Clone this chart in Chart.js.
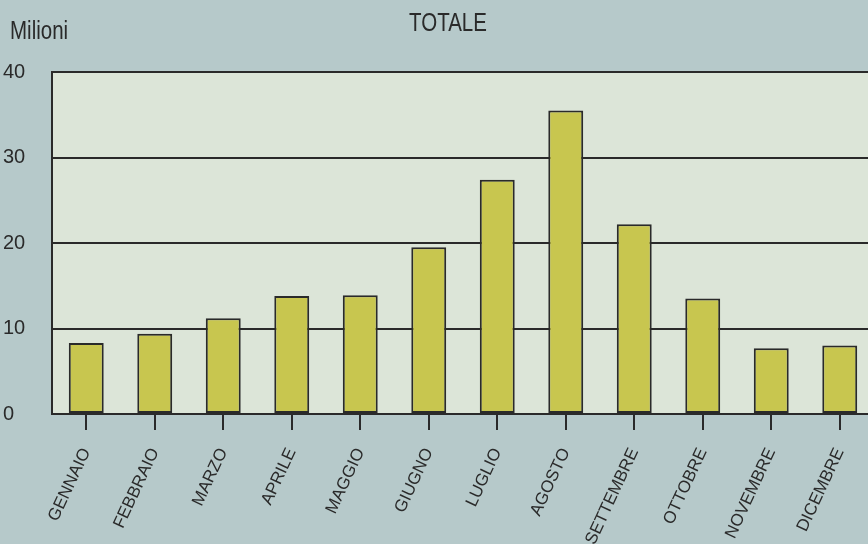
<!DOCTYPE html>
<html><head><meta charset="utf-8">
<script src="https://cdn.jsdelivr.net/npm/chart.js@4/dist/chart.umd.min.js"></script>
<style>
html,body{margin:0;padding:0;background:#b6c9ca;overflow:hidden;width:868px;height:544px;}
#wrap{position:absolute;left:0;top:0;width:890px;height:544px;}
</style></head><body>
<div id="wrap"><canvas id="c" width="890" height="544"></canvas></div>
<script>
const months = ['GENNAIO','FEBBRAIO','MARZO','APRILE','MAGGIO','GIUGNO','LUGLIO','AGOSTO','SETTEMBRE','OTTOBRE','NOVEMBRE','DICEMBRE'];
const values = [8.3, 9.4, 11.2, 13.8, 13.9, 19.5, 27.4, 35.5, 22.2, 13.5, 7.7, 8.0];
const yTicks = [0, 10, 20, 30, 40];
const chartTitle = 'TOTALE';
const unitLabel = 'Milioni';

const FONT = "'Liberation Sans', Arial, sans-serif";
const INK = '#2a2a2a';

function narrowText(ctx, text, x, y, align) {
  ctx.save();
  ctx.translate(x, y);
  ctx.scale(0.82, 1);
  ctx.textAlign = align;
  ctx.fillText(text, 0, 0);
  ctx.restore();
}

const deco = {
  id: 'deco',
  beforeDraw(chart) {
    const {ctx, chartArea: a} = chart;
    ctx.save();
    ctx.fillStyle = '#b6c9ca';
    ctx.fillRect(0, 0, chart.width, chart.height);
    ctx.fillStyle = '#dce5d8';
    ctx.fillRect(a.left, a.top, a.right - a.left, a.bottom - a.top);
    ctx.restore();
  },
  afterDraw(chart) {
    const ctx = chart.ctx;
    ctx.save();
    ctx.fillStyle = INK;
    ctx.textBaseline = 'middle';
    ctx.font = "25px " + FONT;
    narrowText(ctx, unitLabel, 10, 32, 'left');
    narrowText(ctx, chartTitle, 448, 24, 'center');
    ctx.restore();
  }
};

new Chart(document.getElementById('c'), {
  type: 'bar',
  data: {
    labels: months,
    datasets: [{
      data: values,
      backgroundColor: '#c8c64f',
      borderColor: INK,
      borderWidth: 2,
      borderSkipped: false,
      barPercentage: 0.51,
      categoryPercentage: 1
    }]
  },
  options: {
    responsive: false,
    devicePixelRatio: 1,
    animation: false,
    layout: { padding: { left: 3, top: 72, right: 16, bottom: 0 } },
    plugins: { legend: { display: false }, tooltip: { enabled: false }, title: { display: false } },
    scales: {
      x: {
        offset: true,
        grid: { offset: false, drawOnChartArea: false, drawTicks: true, tickLength: 16, color: INK, lineWidth: 2 },
        border: { display: true, color: INK, width: 2 },
        ticks: { autoSkip: false, minRotation: 65, maxRotation: 65, padding: 15, color: INK, font: { family: FONT, size: 17 } },
        afterFit(s) { s.height = 130; }
      },
      y: {
        min: 0, max: 40,
        afterBuildTicks(s) { s.ticks = yTicks.map(v => ({ value: v })); },
        grid: { color: INK, lineWidth: 2, drawTicks: false, tickLength: 0 },
        border: { display: true, color: INK, width: 2 },
        ticks: { crossAlign: 'far', padding: 0, color: INK, font: { family: FONT, size: 20 } },
        afterFit(s) { s.width = 49; }
      }
    }
  },
  plugins: [deco]
});
</script>
</body></html>
